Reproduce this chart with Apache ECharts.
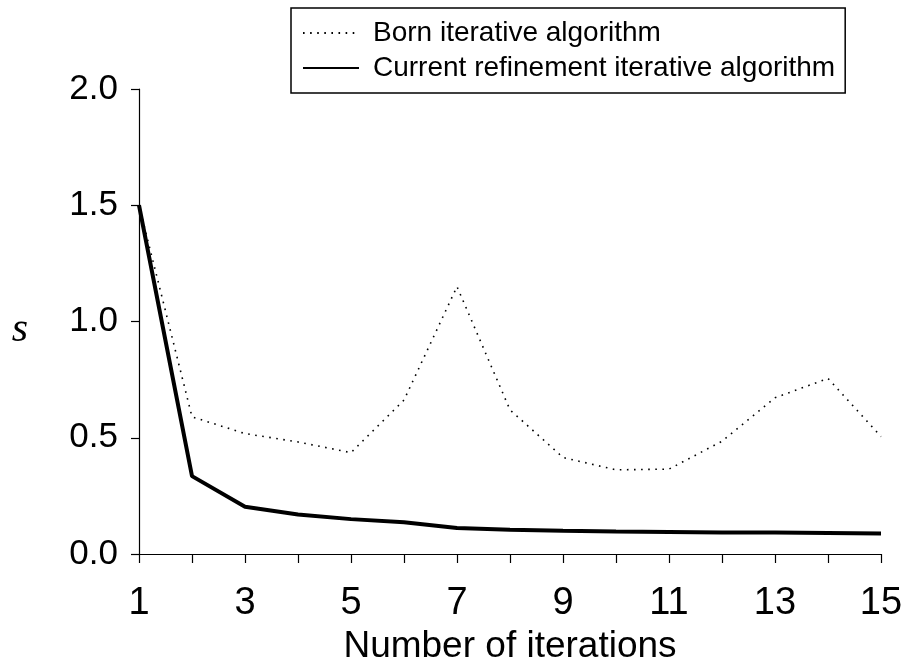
<!DOCTYPE html>
<html>
<head>
<meta charset="utf-8">
<script src="https://cdn.jsdelivr.net/npm/echarts@6/dist/echarts.min.js"></script>
<style>
  html, body { margin: 0; padding: 0; background: #fff; }
  #chart { width: 907px; height: 666px; }
</style>
</head>
<body>
<div id="chart"></div>
<script>
const iterations = [1, 2, 3, 4, 5, 6, 7, 8, 9, 10, 11, 12, 13, 14, 15];
const bornValues = [1.5, 0.59, 0.518, 0.482, 0.436, 0.662, 1.15, 0.62, 0.415, 0.362, 0.365, 0.485, 0.672, 0.755, 0.505];
const currentValues = [1.5, 0.335, 0.203, 0.17, 0.15, 0.137, 0.112, 0.104, 0.1, 0.097, 0.095, 0.093, 0.092, 0.09, 0.088];
const seriesNames = ['Born iterative algorithm', 'Current refinement iterative algorithm'];
const xTickLabels = ['1', '3', '5', '7', '9', '11', '13', '15'];
const yTickLabels = ['0.0', '0.5', '1.0', '1.5', '2.0'];
const yAxisTitle = 's';

const pairs = vals => iterations.map((x, i) => [x, vals[i]]);
const sans = '"Liberation Sans", Arial, Helvetica, sans-serif';

const chart = echarts.init(document.getElementById('chart'), null, { renderer: 'canvas' });
chart.setOption({
  backgroundColor: '#fff',
  animation: false,
  grid: { left: 139, right: 26, top: 89, bottom: 112, containLabel: false, outerBoundsMode: 'none' },
  graphic: [{
    type: 'text',
    x: 20,
    y: 330,
    style: {
      text: yAxisTitle,
      font: 'italic 42px "Liberation Serif", "DejaVu Serif", serif',
      fill: '#000',
      align: 'center',
      verticalAlign: 'middle'
    }
  }],
  legend: {
    orient: 'vertical',
    left: 291,
    top: 8,
    padding: [10, 10, 10, 11],
    borderColor: '#000',
    borderWidth: 1.5,
    backgroundColor: '#fff',
    itemWidth: 56,
    itemHeight: 14,
    itemGap: 5,
    data: seriesNames,
    itemStyle: { opacity: 0 },
    textStyle: { fontFamily: sans, fontSize: 28, color: '#000', lineHeight: 30, padding: [0, 0, 0, 9] }
  },
  xAxis: {
    type: 'value',
    min: 1,
    max: 15,
    interval: 1,
    name: 'Number of iterations',
    nameLocation: 'middle',
    nameGap: 70,
    nameTextStyle: { fontFamily: sans, fontSize: 37, color: '#000' },
    axisLine: { lineStyle: { color: '#000', width: 1.2 } },
    axisTick: { show: true, length: 9, lineStyle: { color: '#000', width: 1.2 } },
    axisLabel: {
      fontFamily: sans, fontSize: 38, color: '#000', margin: 31,
      formatter: v => xTickLabels.includes(String(v)) ? String(v) : ''
    },
    splitLine: { show: false }
  },
  yAxis: {
    type: 'value',
    min: 0,
    max: 2,
    interval: 0.5,
    axisLine: { show: true, lineStyle: { color: '#000', width: 1.2 } },
    axisTick: { show: true, length: 8, lineStyle: { color: '#000', width: 1.2 } },
    axisLabel: {
      fontFamily: sans, fontSize: 35, color: '#000', margin: 21,
      formatter: v => yTickLabels[Math.round(v / 0.5)]
    },
    splitLine: { show: false }
  },
  series: [
    {
      name: seriesNames[0],
      type: 'line',
      data: pairs(bornValues),
      symbol: 'none',
      lineStyle: { color: '#000', width: 1.6, type: [1.6, 5.5] },
      itemStyle: { color: '#000' },
      z: 2
    },
    {
      name: seriesNames[1],
      type: 'line',
      data: pairs(currentValues),
      symbol: 'none',
      lineStyle: { color: '#000', width: 4 },
      itemStyle: { color: '#000' },
      z: 3
    }
  ]
});
</script>
</body>
</html>
